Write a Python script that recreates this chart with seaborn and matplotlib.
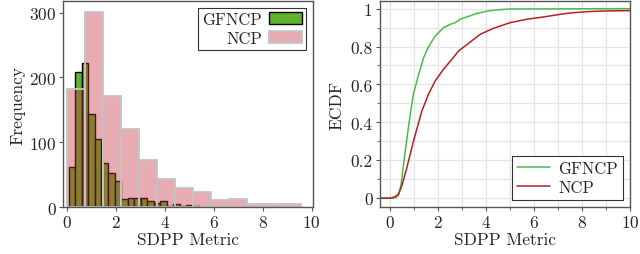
import matplotlib
matplotlib.use("Agg")
import matplotlib.pyplot as plt
import seaborn as sns
import numpy as np
import pandas as pd
from matplotlib.ticker import MultipleLocator, FuncFormatter

# histogram counts
gfncp_counts = [62, 208, 223, 144, 105, 68, 53, 40, 13, 14, 14, 14, 9, 6, 9, 2, 4, 2, 3, 1]
gfncp_range = (0.08, 5.42)
ncp_counts = [183, 301, 172, 120, 73, 43, 30, 24, 11, 13, 5, 5, 5]
ncp_range = (0.02, 9.56)

# ECDF curves (x, F)
gfncp_ecdf_x = [-0.5, 0.15, 0.25, 0.36, 0.47, 0.64, 0.845, 0.98, 1.19, 1.40, 1.61, 1.89,
                2.23, 2.51, 2.72, 2.93, 3.13, 3.55, 4.04, 4.5, 5.0, 10.5]
gfncp_ecdf_y = [0.0, 0.0, 0.003, 0.014, 0.075, 0.25, 0.44, 0.55, 0.65, 0.74, 0.80, 0.856,
                0.90, 0.917, 0.926, 0.944, 0.953, 0.972, 0.987, 0.994, 0.998, 1.0]
ncp_ecdf_x = [-0.5, 0.0, 0.1, 0.22, 0.36, 0.5, 0.71, 0.98, 1.33, 1.61, 1.89, 2.23, 2.58,
              2.86, 3.13, 3.76, 4.31, 5.0, 5.7, 6.39, 7.09, 7.5, 8.2, 9.0, 10.5]
ncp_ecdf_y = [0.0, 0.0, 0.003, 0.008, 0.023, 0.066, 0.163, 0.30, 0.46, 0.55, 0.62, 0.68, 0.733,
              0.777, 0.803, 0.865, 0.896, 0.926, 0.944, 0.956, 0.97, 0.977, 0.984, 0.988, 0.99]

sns.set_theme(style="white")
plt.rcParams["font.family"] = ["cmr10", "DejaVu Serif"]
plt.rcParams["axes.formatter.use_mathtext"] = True
fs = 12.5

green_bar = "#62b22f"
ncp_red = "#c1303c"
green_line = "#4cbb4c"
red_line = "#b52025"

fig = plt.figure(figsize=(6.4, 2.55), dpi=100)
ax1 = fig.add_axes([0.099, 0.184, 0.390, 0.808])
ax2 = fig.add_axes([0.593, 0.184, 0.392, 0.808])


def bin_table(rng, counts):
    edges = np.linspace(rng[0], rng[1], len(counts) + 1)
    mid = (edges[:-1] + edges[1:]) / 2
    return [float(e) for e in edges], pd.DataFrame({"x": mid, "n": counts})


g_edges, g_df = bin_table(gfncp_range, gfncp_counts)
n_edges, n_df = bin_table(ncp_range, ncp_counts)

sns.histplot(data=g_df, x="x", weights="n", bins=g_edges, ax=ax1, color=green_bar,
             alpha=1, edgecolor="black", linewidth=1.0, label="GFNCP")
sns.histplot(data=n_df, x="x", weights="n", bins=n_edges, ax=ax1, color=ncp_red,
             alpha=0.4, edgecolor="#c4c4c4", linewidth=1.3, label="NCP")

ax1.set_xlim(-0.14, 10.05)
ax1.set_ylim(0, 318)
ax1.set_xticks([0, 2, 4, 6, 8, 10])
ax1.set_yticks([0, 100, 200, 300])
ax1.set_xlabel("SDPP Metric", fontsize=fs, labelpad=1)
ax1.set_ylabel("Frequency", fontsize=fs, labelpad=3)
leg1 = ax1.legend(loc="upper right", markerfirst=False, fancybox=False, framealpha=1,
                  edgecolor="#333333", fontsize=12, handlelength=2.0, handleheight=0.75,
                  borderpad=0.25, labelspacing=0.2, handletextpad=0.4, borderaxespad=0.4)
leg1.get_frame().set_linewidth(0.8)

df_g = pd.DataFrame({"x": gfncp_ecdf_x, "F": gfncp_ecdf_y})
df_n = pd.DataFrame({"x": ncp_ecdf_x, "F": ncp_ecdf_y})
sns.lineplot(data=df_g, x="x", y="F", ax=ax2, color=green_line, linewidth=1.1,
             sort=False, estimator=None, label="GFNCP")
sns.lineplot(data=df_n, x="x", y="F", ax=ax2, color=red_line, linewidth=1.1,
             sort=False, estimator=None, label="NCP")

ax2.set_xlim(-0.43, 10)
ax2.set_ylim(-0.047, 1.04)
ax2.xaxis.set_major_locator(MultipleLocator(2))
ax2.xaxis.set_minor_locator(MultipleLocator(1))
ax2.yaxis.set_major_locator(MultipleLocator(0.2))
ax2.yaxis.set_minor_locator(MultipleLocator(0.1))
ax2.yaxis.set_major_formatter(FuncFormatter(lambda v, p: "%g" % round(v, 2)))
ax2.grid(True, which="both", color="#e4e4e4", linewidth=0.9)
ax2.set_axisbelow(True)
ax2.set_xlabel("SDPP Metric", fontsize=fs, labelpad=1)
ax2.set_ylabel("ECDF", fontsize=fs, labelpad=4)
leg2 = ax2.legend(loc="lower right", fancybox=False, framealpha=1, edgecolor="#333333",
                  fontsize=12, handlelength=2.0, borderpad=0.3, labelspacing=0.2,
                  handletextpad=0.5, borderaxespad=0.45)
leg2.get_frame().set_linewidth(0.8)

for ax in (ax1, ax2):
    for s in ax.spines.values():
        s.set_color("#555555")
        s.set_linewidth(1.0)
    ax.tick_params(which="major", direction="out", length=3, width=0.8, color="#555555",
                   labelsize=fs, pad=2, bottom=True, left=True)
    ax.tick_params(which="minor", direction="out", length=2, width=0.6, color="#555555",
                   bottom=True, left=True)

fig.savefig("out.png", dpi=100)
